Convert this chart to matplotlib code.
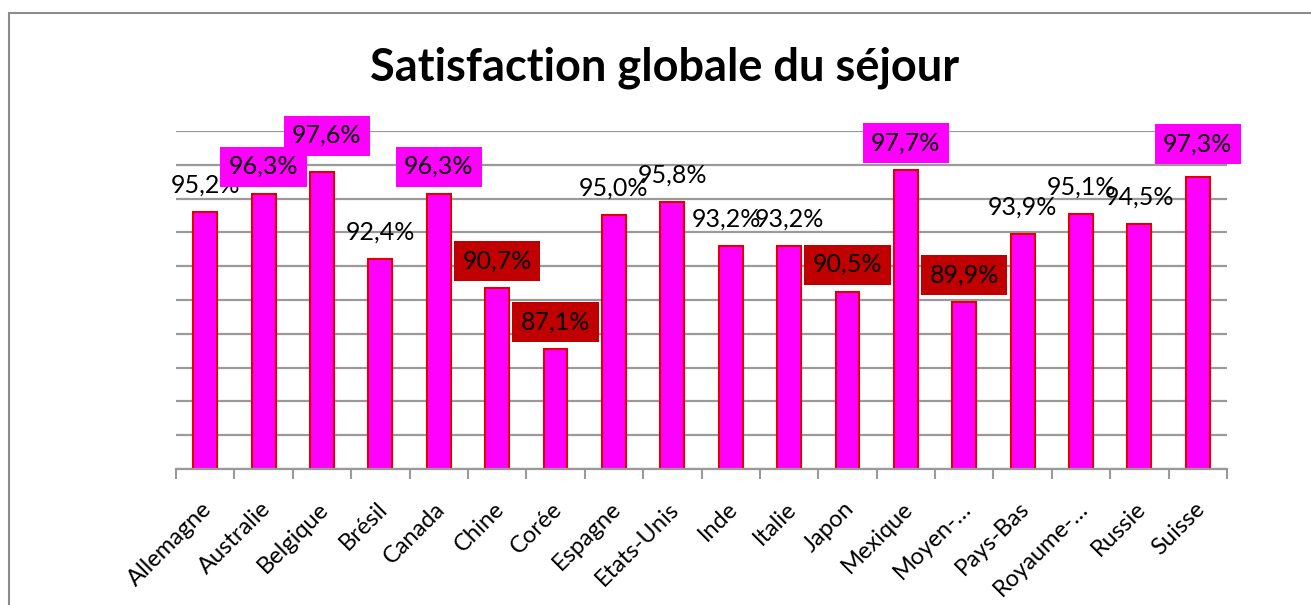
import matplotlib
matplotlib.use("Agg")
import matplotlib.pyplot as plt
from matplotlib.patches import Rectangle
from matplotlib.ticker import MultipleLocator, FixedLocator
import matplotlib.transforms as mtransforms

plt.rcParams['font.family'] = ['Lato', 'DejaVu Sans']

countries = ["Allemagne", "Australie", "Belgique", "Brésil", "Canada", "Chine",
             "Corée", "Espagne", "Etats-Unis", "Inde", "Italie", "Japon",
             "Mexique", "Moyen-Orient", "Pays-Bas", "Royaume-Uni", "Russie", "Suisse"]
tick_labels = ["Allemagne", "Australie", "Belgique", "Brésil", "Canada", "Chine",
               "Corée", "Espagne", "Etats-Unis", "Inde", "Italie", "Japon",
               "Mexique", "Moyen-…", "Pays-Bas", "Royaume-…", "Russie", "Suisse"]
values = [95.2, 96.3, 97.6, 92.4, 96.3, 90.7, 87.1, 95.0, 95.8, 93.2, 93.2, 90.5,
          97.7, 89.9, 93.9, 95.1, 94.5, 97.3]

HIGH = 96.0
LOW = 91.0

W, H = 1311, 605
fig = plt.figure(figsize=(W / 100, H / 100), dpi=100)

# outer chart border
fig.patches.append(Rectangle((9 / W, -0.1), 1.2, 1.1 - 13 / H,
                             transform=fig.transFigure, fill=False,
                             edgecolor="#8c8c8c", linewidth=1.5, zorder=0))

ax = fig.add_axes([176 / W, 1 - 469 / H, (1227 - 176) / W, (469 - 131) / H])

x = list(range(len(values)))
ax.bar(x, values, width=0.41, bottom=0, color="#FF00FF", edgecolor="#E00000",
       linewidth=1.5, zorder=3)

ax.set_ylim(80, 100)
ax.set_xlim(-0.5, len(values) - 0.5)
ax.yaxis.set_major_locator(MultipleLocator(2))
ax.grid(axis="y", color="#9a9a9a", linewidth=1.6, zorder=0)
ax.set_yticklabels([])
ax.tick_params(axis="y", length=0)

for s in ["left", "right", "top"]:
    ax.spines[s].set_visible(False)
ax.spines["bottom"].set_color("#9a9a9a")
ax.spines["bottom"].set_linewidth(1.6)
ax.spines["bottom"].set_zorder(4)

ax.xaxis.set_major_locator(FixedLocator(x))
ax.set_xticklabels(tick_labels, rotation=45, ha="right", va="top",
                   rotation_mode="anchor", fontsize=17)
ax.tick_params(axis="x", which="major", length=0, pad=21)
shift = mtransforms.ScaledTranslation(-4 / 100, 0, fig.dpi_scale_trans)
for lab in ax.get_xticklabels():
    lab.set_transform(lab.get_transform() + shift)
ax.xaxis.set_minor_locator(FixedLocator([i - 0.5 for i in range(len(values) + 1)]))
ax.tick_params(axis="x", which="minor", length=7, width=1.5, color="#9a9a9a")

# extra label offsets (pixels) for a few labels
extra_dy = {2: 9, 17: 6}
extra_dx = {2: 5, 9: -4}

for i, v in enumerate(values):
    txt = f"{v:.1f}%".replace(".", ",")
    dy = 27 + extra_dy.get(i, 0)
    dx = extra_dx.get(i, 0)
    if v >= HIGH:
        bbox = dict(boxstyle="square,pad=0.34", facecolor="#FF00FF", edgecolor="none")
    elif v < LOW:
        bbox = dict(boxstyle="square,pad=0.34", facecolor="#C00000", edgecolor="none")
    else:
        bbox = None
    ax.annotate(txt, (i, v), xytext=(dx * 0.72, dy * 0.72), textcoords="offset points",
                ha="center", va="center", fontsize=18, color="black",
                bbox=bbox, zorder=5, annotation_clip=False)

fig.text(665 / W, 1 - 68 / H, "Satisfaction globale du séjour", ha="center", va="center",
         fontsize=32.5, fontweight="bold")

fig.savefig("out.png", dpi=100)
